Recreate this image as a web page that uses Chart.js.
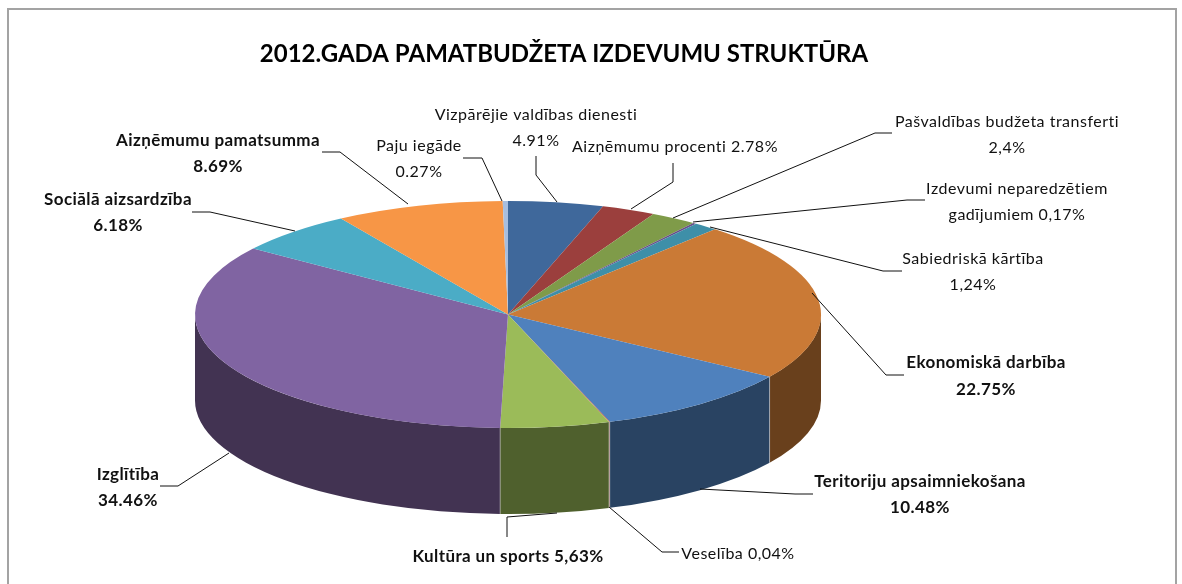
<!DOCTYPE html>
<html lang="lv">
<head>
<meta charset="utf-8">
<title>2012.gada pamatbudžeta izdevumu struktūra</title>
<script src="https://cdn.jsdelivr.net/npm/chart.js@4"></script>
<style>
    html, body { margin: 0; padding: 0; background: #fff; overflow: hidden; }
    canvas { display: block; }
</style>
</head>
<body>
<canvas id="budgetChart" width="1182" height="584"></canvas>
<script>
// Budget structure, 3D look pie: a normal Chart.js pie squashed by a plugin.
const chartTitle = '2012.GADA PAMATBUDŽETA IZDEVUMU STRUKTŪRA';
const categories = [
    'Vizpārējie valdības dienesti', 'Aizņēmumu procenti', 'Pašvaldības budžeta transferti',
    'Izdevumi neparedzētiem gadījumiem', 'Sabiedriskā kārtība', 'Ekonomiskā darbība',
    'Teritoriju apsaimniekošana', 'Veselība', 'Kultūra un sports', 'Izglītība',
    'Sociālā aizsardzība', 'Aizņēmumu pamatsumma', 'Paju iegāde'
];
const shares = [4.91, 2.78, 2.4, 0.17, 1.24, 22.75, 10.48, 0.04, 5.63, 34.46, 6.18, 8.69, 0.27];
const labelLines = [
    ['Vizpārējie valdības dienesti', '4.91%'], ['Aizņēmumu procenti 2.78%'],
    ['Pašvaldības budžeta transferti', '2,4%'], ['Izdevumi neparedzētiem', 'gadījumiem 0,17%'],
    ['Sabiedriskā kārtība', '1,24%'], ['Ekonomiskā darbība', '22.75%'],
    ['Teritoriju apsaimniekošana', '10.48%'], ['Veselība 0,04%'], ['Kultūra un sports 5,63%'],
    ['Izglītība', '34.46%'], ['Sociālā aizsardzība', '6.18%'],
    ['Aizņēmumu pamatsumma', '8.69%'], ['Paju iegāde', '0.27%']
];
const topColors = ['#3f689b', '#9b3f3d', '#7f9b49', '#68508a', '#3e8fa8', '#ca7a36',
    '#4f81bd', '#c0504d', '#9bbb59', '#8064a2', '#4bacc6', '#f79646', '#a8bede'];
const sideColors = ['#213650', '#512120', '#425026', '#362a48', '#204a57', '#69401c',
    '#294362', '#642a28', '#4f602d', '#423352', '#275967', '#804e24', '#576373'];

// where things sit on the page
const PIE = { x: 508, y: 314.5, rx: 313, ry: 113.5, depth: 86 };
const FONT = 'Lato, Carlito, Calibri, sans-serif';
const placements = [
    { x: 536, y: [115, 141], bold: false, line: [[536, 156], [536, 175], [557, 202]] },
    { x: 675, y: [147], bold: false, line: [[673, 163], [673, 182], [631, 209]] },
    { x: 1007, y: [122, 148], bold: false, line: [[892, 133], [875, 133], [673, 218]] },
    { x: 1017, y: [189, 215], bold: false, line: [[925, 200], [907, 200], [693, 222]] },
    { x: 973, y: [259, 285], bold: false, line: [[902, 271], [883, 271], [710, 227]] },
    { x: 986, y: [363, 390], bold: true, line: [[904, 375], [886, 375], [812, 293]] },
    { x: 920, y: [482, 508], bold: true, line: [[813, 494], [795, 494], [700, 489]] },
    { x: 738, y: [554], bold: false, line: [[679, 552], [662, 552], [609, 507]] },
    { x: 508, y: [557], bold: true, line: [[507, 537], [507, 517], [557, 513]] },
    { x: 128, y: [475, 501], bold: true, line: [[160, 486], [178, 486], [229, 453]] },
    { x: 118, y: [200, 226], bold: true, line: [[192, 212], [210, 212], [295, 231]] },
    { x: 218, y: [141, 167], bold: true, line: [[322, 152], [340, 152], [408, 204]] },
    { x: 419, y: [146, 172], bold: false, line: [[463, 158], [482, 158], [502, 201]] }
];

const pie3d = {
    id: 'pie3d',
    beforeDraw(chart) {
        // outer frame, the bottom edge runs off the page
        const ctx = chart.ctx;
        ctx.save();
        ctx.strokeStyle = '#a3a3a3';
        ctx.lineWidth = 2;
        ctx.strokeRect(8, 9, 1168, 620);
        ctx.restore();
    },
    beforeDatasetsDraw(chart) {
        const ctx = chart.ctx;
        const arcs = chart.getDatasetMeta(0).data;
        ctx.save();
        // front wall, only the part of each slice between 0 and PI faces us
        arcs.forEach((arc, i) => {
            const a0 = Math.max(arc.startAngle, 0);
            const a1 = Math.min(arc.endAngle, Math.PI);
            if (a1 <= a0) return;
            ctx.beginPath();
            ctx.ellipse(PIE.x, PIE.y, PIE.rx, PIE.ry, 0, a0, a1, false);
            ctx.ellipse(PIE.x, PIE.y + PIE.depth, PIE.rx, PIE.ry, 0, a1, a0, true);
            ctx.closePath();
            ctx.fillStyle = sideColors[i];
            ctx.fill();
        });
        // thin light seams between the walls
        ctx.strokeStyle = 'rgba(255,255,255,0.4)';
        ctx.lineWidth = 1;
        arcs.forEach((arc) => {
            const a = arc.endAngle;
            if (a <= 0 || a >= Math.PI) return;
            const x = PIE.x + PIE.rx * Math.cos(a);
            const y = PIE.y + PIE.ry * Math.sin(a);
            ctx.beginPath();
            ctx.moveTo(x, y);
            ctx.lineTo(x, y + PIE.depth);
            ctx.stroke();
        });
        ctx.restore();
        // squash the round pie into the top ellipse
        const c = arcs[0];
        ctx.save();
        ctx.translate(PIE.x, PIE.y);
        ctx.scale(1, PIE.ry / PIE.rx);
        ctx.translate(-c.x, -c.y);
    },
    afterDatasetsDraw(chart) {
        chart.ctx.restore();
    },
    afterDraw(chart) {
        const ctx = chart.ctx;
        ctx.save();
        ctx.textAlign = 'center';
        ctx.textBaseline = 'middle';
        placements.forEach((p, i) => {
            ctx.strokeStyle = '#111';
            ctx.lineWidth = 1;
            ctx.beginPath();
            p.line.forEach(([x, y], k) => k ? ctx.lineTo(x, y) : ctx.moveTo(x, y));
            ctx.stroke();
            ctx.font = p.bold ? `bold 17px ${FONT}` : `16px ${FONT}`;
            ctx.letterSpacing = p.bold ? '0.4px' : '0.5px';
            ctx.fillStyle = '#111';
            labelLines[i].forEach((txt, k) => ctx.fillText(txt, p.x, p.y[k]));
        });
        ctx.restore();
    }
};

new Chart(document.getElementById('budgetChart'), {
    type: 'pie',
    data: {
        labels: categories,
        datasets: [{
            data: shares,
            backgroundColor: topColors,
            borderWidth: 0,
            radius: PIE.rx,
            clip: false
        }]
    },
    options: {
        responsive: false,
        animation: false,
        layout: { padding: { left: 0, right: 54 } },
        plugins: {
            legend: { display: false },
            tooltip: { enabled: false },
            title: {
                display: true,
                text: chartTitle,
                fullSize: false,
                color: '#000',
                font: { family: FONT, size: 24, weight: 'bold' },
                padding: { top: 40, bottom: 0 }
            }
        }
    },
    plugins: [pie3d]
});
</script>
</body>
</html>
